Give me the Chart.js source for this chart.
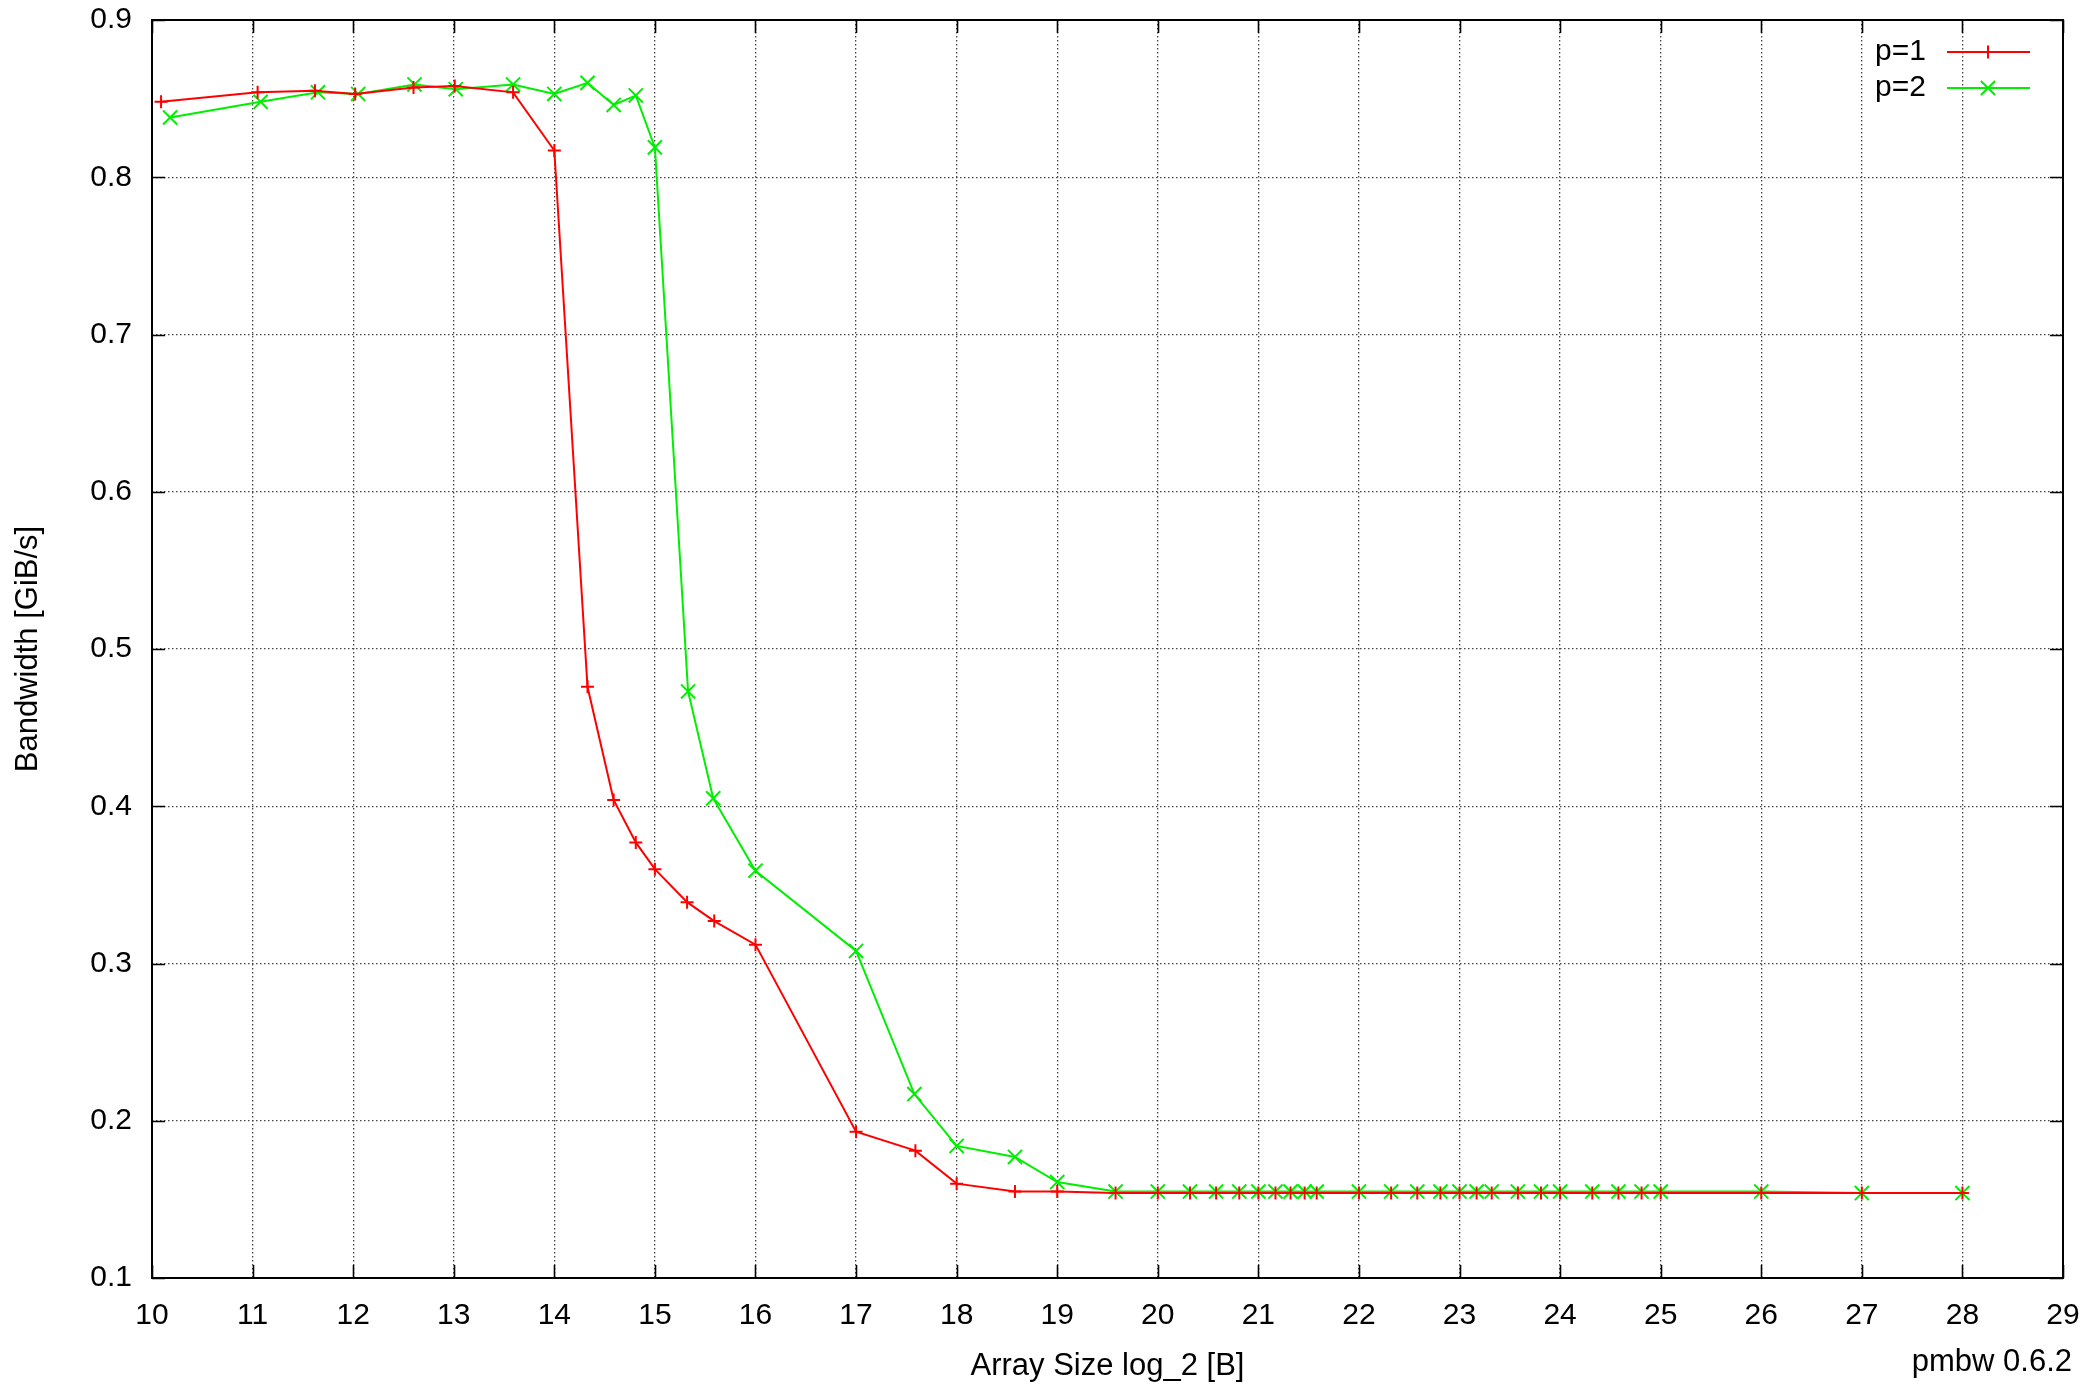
<!DOCTYPE html>
<html>
<head>
<meta charset="utf-8">
<title>pmbw bandwidth</title>
<script src="https://cdn.jsdelivr.net/npm/chart.js@4.4.1/dist/chart.umd.min.js"></script>
<style>
  html, body { margin: 0; padding: 0; background: #fff; }
  canvas { display: block; }
</style>
</head>
<body>
<canvas id="chart" width="2096" height="1391"></canvas>
<script>
// ===== Data =====
// array sizes (log_2 of bytes) and bandwidth in GiB/s

// sizes from 2^19.58 upwards, shared by both series
const largeSizes = [19.58, 20, 20.32, 20.58, 20.81, 21, 21.17, 21.32, 21.46, 21.58,
  22, 22.32, 22.58, 22.81, 23, 23.17, 23.32, 23.58, 23.81, 24, 24.32, 24.58, 24.81,
  25, 26, 27, 28];

// p=1
const sizesP1 = [10.09, 11.05, 11.62, 12.02, 12.60, 13.01, 13.59, 14.0, 14.33, 14.59,
  14.81, 15.0, 15.32, 15.59, 16.0, 17.0, 17.59, 18.0, 18.58, 19.0].concat(largeSizes);
const bwP1 = [0.848, 0.854, 0.855, 0.853, 0.857, 0.858, 0.854, 0.817, 0.476, 0.404,
  0.377, 0.360, 0.339, 0.327, 0.312, 0.193, 0.181, 0.160, 0.155, 0.155,
  0.154, 0.154, 0.154, 0.154, 0.154, 0.154, 0.154, 0.154, 0.154, 0.154,
  0.154, 0.154, 0.154, 0.154, 0.154, 0.154, 0.154, 0.154, 0.154, 0.154,
  0.154, 0.154, 0.154, 0.154, 0.154, 0.154, 0.154];

// p=2
const sizesP2 = [10.18, 11.08, 11.65, 12.05, 12.61, 13.02, 13.59, 14.0, 14.33, 14.59,
  14.81, 15.0, 15.33, 15.58, 16.0, 17.0, 17.58, 18.0, 18.58, 19.0].concat(largeSizes);
const bwP2 = [0.838, 0.848, 0.854, 0.853, 0.859, 0.856, 0.859, 0.853, 0.860, 0.846,
  0.852, 0.819, 0.473, 0.405, 0.359, 0.308, 0.217, 0.184, 0.177, 0.161,
  0.155, 0.155, 0.155, 0.155, 0.155, 0.155, 0.155, 0.155, 0.155, 0.155,
  0.155, 0.155, 0.155, 0.155, 0.155, 0.155, 0.155, 0.155, 0.155, 0.155,
  0.155, 0.155, 0.155, 0.155, 0.155, 0.154, 0.154];

const seriesNames = ['p=1', 'p=2'];
const xRange = [10, 29];
const yRange = [0.1, 0.9];
const footerText = 'pmbw 0.6.2';

// ===== Style =====
const FONT = '"Liberation Sans", Arial, Helvetica, sans-serif';
const RED = '#ff0000';
const GREEN = '#00ee00';
const TICK = 13;

const toPoints = (xs, ys) => xs.map((x, i) => ({ x, y: ys[i] }));

// keep Chart.js from adding room for the edge labels, the frame is fixed
const noEdgePadding = s => {
  s.paddingTop = 0; s.paddingBottom = 0; s.paddingLeft = 0; s.paddingRight = 0;
};

// border box, inward ticks on all four sides, legend and footer (gnuplot look)
const framePlugin = {
  id: 'frame',
  afterDraw(chart) {
    const { ctx, chartArea: a, scales: { x, y } } = chart;
    ctx.save();
    ctx.strokeStyle = '#000';
    ctx.lineWidth = 1.6;
    ctx.beginPath();
    x.ticks.forEach(t => {
      const px = Math.round(x.getPixelForValue(t.value)) + 0.5;
      ctx.moveTo(px, a.bottom); ctx.lineTo(px, a.bottom - TICK);
      ctx.moveTo(px, a.top); ctx.lineTo(px, a.top + TICK);
    });
    y.ticks.forEach(t => {
      const py = Math.round(y.getPixelForValue(t.value)) + 0.5;
      ctx.moveTo(a.left, py); ctx.lineTo(a.left + TICK, py);
      ctx.moveTo(a.right, py); ctx.lineTo(a.right - TICK, py);
    });
    ctx.stroke();
    ctx.lineWidth = 2;
    ctx.strokeRect(a.left, a.top, a.right - a.left, a.bottom - a.top);

    // legend, top right inside the plot
    ctx.font = '30px ' + FONT;
    ctx.textAlign = 'right';
    ctx.textBaseline = 'middle';
    chart.data.datasets.forEach((ds, i) => {
      const ly = a.top + 32 + i * 36;
      const lx = a.right - 137;
      ctx.fillStyle = '#000';
      ctx.fillText(ds.label, lx, ly);
      ctx.strokeStyle = ds.borderColor;
      ctx.lineWidth = 2;
      ctx.beginPath();
      ctx.moveTo(lx + 21, ly); ctx.lineTo(lx + 104, ly);
      const mx = lx + 62, r = ds.pointRadius;
      if (ds.pointStyle === 'cross') {
        ctx.moveTo(mx, ly - r); ctx.lineTo(mx, ly + r);
      } else {
        const d = r * Math.SQRT1_2;
        ctx.moveTo(mx - d, ly - d); ctx.lineTo(mx + d, ly + d);
        ctx.moveTo(mx - d, ly + d); ctx.lineTo(mx + d, ly - d);
      }
      ctx.stroke();
    });

    ctx.fillStyle = '#000';
    ctx.font = '31px ' + FONT;
    ctx.textAlign = 'right';
    ctx.fillText(footerText, 2072, 1362);
    ctx.restore();
  }
};

new Chart(document.getElementById('chart'), {
  type: 'scatter',
  data: {
    datasets: [
      {
        label: seriesNames[0],
        data: toPoints(sizesP1, bwP1),
        showLine: true,
        borderColor: RED,
        backgroundColor: RED,
        borderWidth: 2,
        pointStyle: 'cross',
        pointRadius: 6.5,
        pointBorderWidth: 2,
        pointHoverRadius: 6.5
      },
      {
        label: seriesNames[1],
        data: toPoints(sizesP2, bwP2),
        showLine: true,
        borderColor: GREEN,
        backgroundColor: GREEN,
        borderWidth: 2,
        pointStyle: 'crossRot',
        pointRadius: 10,
        pointBorderWidth: 2,
        pointHoverRadius: 10
      }
    ]
  },
  options: {
    responsive: false,
    devicePixelRatio: 1,
    animation: false,
    layout: { padding: { top: 20, right: 33, left: 0, bottom: 0 } },
    plugins: { legend: { display: false }, tooltip: { enabled: false } },
    scales: {
      x: {
        type: 'linear',
        min: xRange[0],
        max: xRange[1],
        afterFit: s => { s.height = 113; noEdgePadding(s); },
        ticks: {
          stepSize: 1,
          color: '#000',
          padding: 20,
          font: { family: FONT, size: 30 }
        },
        grid: { color: '#444', lineWidth: 1.3, drawTicks: false },
        border: { display: false, dash: [1.5, 2.5] },
        title: {
          display: true,
          text: 'Array Size log_2 [B]',
          color: '#000',
          font: { family: FONT, size: 31 },
          padding: { top: 0, bottom: 6 }
        }
      },
      y: {
        type: 'linear',
        min: yRange[0],
        max: yRange[1],
        afterFit: s => { s.width = 152; noEdgePadding(s); },
        ticks: {
          stepSize: 0.1,
          color: '#000',
          padding: 20,
          font: { family: FONT, size: 30 },
          callback: v => v.toFixed(1)
        },
        grid: { color: '#444', lineWidth: 1.3, drawTicks: false },
        border: { display: false, dash: [1.5, 2.5] },
        title: {
          display: true,
          text: 'Bandwidth [GiB/s]',
          color: '#000',
          font: { family: FONT, size: 31 },
          padding: { top: 10, bottom: 0 }
        }
      }
    }
  },
  plugins: [framePlugin]
});
</script>
</body>
</html>
